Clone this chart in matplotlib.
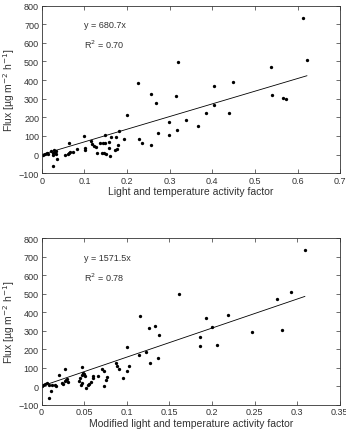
import numpy as np
import matplotlib
matplotlib.use("Agg")
import matplotlib.pyplot as plt

plt.rcParams['font.family'] = ['Liberation Sans', 'DejaVu Sans']

# top panel: light and temperature activity factor vs flux
x_top = [0.002, 0.007, 0.012, 0.015, 0.022, 0.025, 0.027, 0.028, 0.030, 0.032,
         0.034, 0.027, 0.036, 0.055, 0.062, 0.064, 0.066, 0.064, 0.072, 0.083,
         0.100, 0.101, 0.102, 0.115, 0.118, 0.122, 0.127, 0.130, 0.137, 0.143,
         0.149, 0.149, 0.141, 0.146, 0.150, 0.157, 0.157, 0.159, 0.163, 0.172,
         0.176, 0.175, 0.179, 0.182, 0.192, 0.200, 0.225, 0.229, 0.234, 0.256,
         0.256, 0.269, 0.273, 0.298, 0.298, 0.315, 0.318, 0.319, 0.339, 0.367,
         0.386, 0.405, 0.405, 0.439, 0.449, 0.538, 0.541, 0.566, 0.573, 0.612,
         0.622]
y_top = [0, 5, 10, 3, 18, 8, -2, 25, 12, 20,
         5, -61, -25, -3, 3, 8, 12, 61, 14, 29,
         97, 36, 24, 70, 56, 47, 40, 9, 60, 60,
         60, 104, 9, 9, 5, 65, 36, -8, 94, 25,
         28, 95, 52, 124, 85, 212, 382, 85, 61, 325,
         51, 277, 114, 173, 106, 313, 131, 499, 184, 151,
         221, 368, 268, 225, 388, 472, 318, 303, 296, 734,
         508]
slope_top = 680.7
r2_top = 0.70

# bottom panel: modified activity factor vs flux
x_bot = [0.000, 0.002, 0.004, 0.007, 0.009, 0.009, 0.011, 0.012, 0.016, 0.017,
         0.020, 0.024, 0.027, 0.029, 0.031, 0.028, 0.025, 0.030, 0.044, 0.045,
         0.047, 0.048, 0.049, 0.050, 0.051, 0.046, 0.047, 0.052, 0.054, 0.056,
         0.058, 0.060, 0.060, 0.066, 0.071, 0.073, 0.073, 0.076, 0.077, 0.087,
         0.088, 0.091, 0.096, 0.100, 0.100, 0.103, 0.114, 0.115, 0.123, 0.126,
         0.127, 0.133, 0.137, 0.138, 0.161, 0.186, 0.186, 0.193, 0.200, 0.206,
         0.219, 0.247, 0.276, 0.282, 0.293, 0.309]
y_bot = [3, 8, 12, 16, 8, -62, -24, 5, 5, 0,
         61, 20, 30, 35, 25, 93, 10, 40, 30, 45,
         102, 60, 70, 65, 55, 5, 20, -11, 8, 14,
         24, 43, 57, 57, 91, 82, 1, 32, 48, 126,
         109, 93, 46, 82, 210, 111, 170, 382, 183, 313,
         127, 324, 151, 275, 499, 265, 219, 367, 319, 223,
         385, 293, 472, 302, 508, 737]
slope_bot = 1571.5
r2_bot = 0.78

fig = plt.figure(figsize=(3.46, 4.31), dpi=100)
ax1 = fig.add_axes([0.121, 0.596, 0.862, 0.3885])
ax2 = fig.add_axes([0.120, 0.0587, 0.862, 0.3861])

panels = [
    (ax1, x_top, y_top, slope_top, r2_top, 0.7, 0.1,
     ['0', '0.1', '0.2', '0.3', '0.4', '0.5', '0.6', '0.7'],
     'Light and temperature activity factor', 0.1),
    (ax2, x_bot, y_bot, slope_bot, r2_bot, 0.35, 0.05,
     ['0', '0.05', '0.1', '0.15', '0.2', '0.25', '0.3', '0.35'],
     'Modified light and temperature activity factor', 0.05),
]

for ax, xs, ys, slope, r2, xmax, xstep, xlabels, xlab, tx in panels:
    ax.plot(xs, ys, 'o', color='black', markersize=2.4, markeredgewidth=0)
    xl = np.array([0, max(xs)])
    ax.plot(xl, slope * xl, color='black', linewidth=0.6)
    ax.set_xlim(0, xmax)
    ax.set_ylim(-100, 800)
    ax.set_xticks(np.arange(0, xmax + xstep / 2, xstep))
    ax.set_xticklabels(xlabels)
    ax.set_yticks(np.arange(-100, 801, 100))
    ax.set_yticklabels(['\u2212100'] + [str(v) for v in range(0, 801, 100)])
    ax.tick_params(direction='in', top=True, right=True, length=3, width=0.5,
                   labelsize=6.5, pad=2, colors='#333333')
    for s in ax.spines.values():
        s.set_linewidth(0.6)
        s.set_color('#333333')
    ax.set_xlabel(xlab, fontsize=7.5, labelpad=1, color='#333333')
    ax.set_ylabel('Flux [\u00b5g m$^{-2}$ h$^{-1}$]', fontsize=7.5, labelpad=1,
                  color='#333333')
    ax.text(tx, 698, 'y = %.1fx' % slope, fontsize=6.5, va='center', color='#333333')
    ax.text(tx, 593, 'R$^2$ = %.2f' % r2, fontsize=6.5, va='center', color='#333333')

fig.savefig('out.png', dpi=100)
